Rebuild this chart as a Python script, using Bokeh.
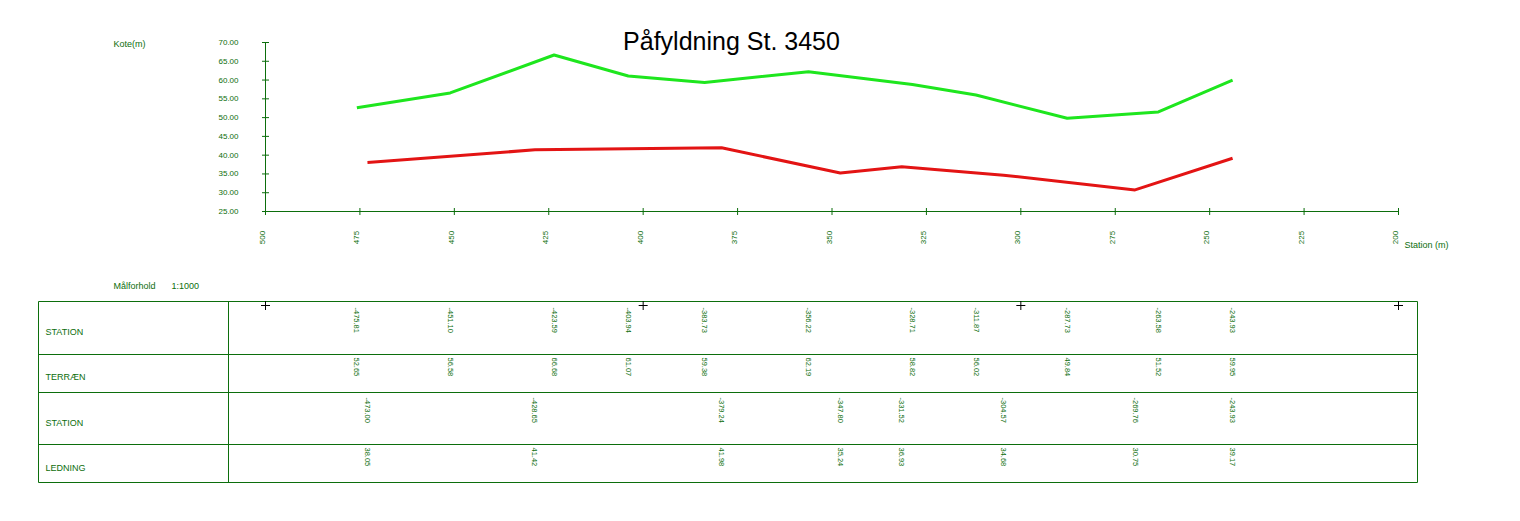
import math
from bokeh.plotting import figure
from bokeh.models import Range1d, ColumnDataSource
from bokeh.core.properties import value
from bokeh.embed import file_html
from bokeh.resources import INLINE

# ---------------- data ----------------
title_text = "Påfyldning St. 3450"
y_ticks = [25, 30, 35, 40, 45, 50, 55, 60, 65, 70]
x_ticks = [500, 475, 450, 425, 400, 375, 350, 325, 300, 275, 250, 225, 200]
cross_stations = [500, 400, 300, 200]

terrain_station = [-475.81, -451.10, -423.59, -403.94, -383.73, -356.22,
                   -328.71, -311.87, -287.73, -263.58, -243.93]
terrain_kote = [52.65, 56.58, 66.68, 61.07, 59.38, 62.19,
                58.82, 56.02, 49.84, 51.52, 59.95]

ledning_station = [-473.00, -428.65, -379.24, -347.80, -331.52, -304.57, -269.76, -243.93]
ledning_kote = [38.05, 41.42, 41.98, 35.24, 36.93, 34.68, 30.75, 39.17]

row_labels = ["STATION", "TERRÆN", "STATION", "LEDNING"]

# ---------------- styling ----------------
W, H = 1504, 505
FONT = "Liberation Sans"
DG = "#0c6e0c"
GREEN = "#1ee61e"
RED = "#e31414"

# pixel anchors (canvas px)
X500, X200 = 265, 1398
Y70, Y25 = 42, 211
sx = (X200 - X500) / 300.0
sy = (Y25 - Y70) / 45.0
x_start = 500 + X500 / sx
x_end = 500 - (W - X500) / sx
y_top = 70 + Y70 / sy
y_bot = 70 - (H - Y70) / sy

p = figure(width=W, height=H, output_backend="svg", toolbar_location=None,
           x_range=Range1d(x_start, x_end), y_range=Range1d(y_bot, y_top),
           x_axis_location=None, y_axis_location=None, min_border=0,
           background_fill_color="white", border_fill_color="white")
p.outline_line_color = None
p.grid.visible = False
p.extra_x_ranges = {"px": Range1d(0, W)}
p.extra_y_ranges = {"py": Range1d(H, 0)}

def txt(x, y, t, size, color=DG, align="left", baseline="middle", angle=0.0,
        xr="default", yr="default", x_offset=0):
    src = ColumnDataSource(dict(x=list(x), y=list(y), t=list(t)))
    p.text(x="x", y="y", text="t", source=src, text_font=value(FONT),
           text_font_size=f"{size}px", text_color=color, text_align=align,
           text_baseline=baseline, angle=angle, x_range_name=xr, y_range_name=yr,
           x_offset=x_offset)

# title
txt([731], [40], [title_text], 25, color="black", align="center", baseline="alphabetic",
    xr="px", yr="py")
txt([113], [43], ["Kote(m)"], 9, xr="px", yr="py")

# y axis
p.line(x=[x_ticks[0], x_ticks[0]], y=[y_ticks[0], y_ticks[-1]], line_color=DG, line_width=1)
p.scatter(x=[x_ticks[0]] * len(y_ticks), y=y_ticks, marker="dash", size=7,
          line_color=DG, line_width=1)
txt([238] * len(y_ticks), y_ticks, [f"{v:.2f}" for v in y_ticks], 8, align="right", xr="px")

# x axis
p.line(x=[x_ticks[0], x_ticks[-1]], y=[y_ticks[0], y_ticks[0]], line_color=DG, line_width=1)
p.scatter(x=x_ticks, y=[y_ticks[0]] * len(x_ticks), marker="dash", angle=math.pi / 2,
          size=7, line_color=DG, line_width=1)
txt(x_ticks, [237] * len(x_ticks), [str(v) for v in x_ticks], 8, align="center",
    angle=math.pi / 2, yr="py", x_offset=-3)
txt([1404], [244], ["Station (m)"], 9, xr="px", yr="py")

# profile lines
p.line(x=[abs(s) for s in terrain_station], y=terrain_kote, line_color=GREEN, line_width=3)
p.line(x=[abs(s) for s in ledning_station], y=ledning_kote, line_color=RED, line_width=3)

# scale note
txt([113], [285], ["Målforhold"], 9, xr="px", yr="py")
txt([171], [285], ["1:1000"], 9, xr="px", yr="py")

# table grid
L, R, T, B, D = 38, 1417, 301, 482, 228
rows = [354, 392, 444]
p.segment(x0=[L, L, L, R, D] + [L] * 3, y0=[T, B, T, T, T] + rows,
          x1=[R, R, L, R, D] + [R] * 3, y1=[T, B, B, B, B] + rows,
          line_color=DG, line_width=1, x_range_name="px", y_range_name="py")
txt([45] * 4, [331, 376, 422, 467], row_labels, 9, xr="px", yr="py")

p.scatter(x=cross_stations, y=[305] * len(cross_stations), marker="cross", size=9,
          line_color="black", line_width=1, y_range_name="py")

txt([abs(s) for s in terrain_station], [307] * len(terrain_station),
    [f"{s:.2f}" for s in terrain_station], 7.5, angle=-math.pi / 2, yr="py")
txt([abs(s) for s in terrain_station], [357] * len(terrain_station),
    [f"{v:.2f}" for v in terrain_kote], 7.5, angle=-math.pi / 2, yr="py")
txt([abs(s) for s in ledning_station], [397] * len(ledning_station),
    [f"{s:.2f}" for s in ledning_station], 7.5, angle=-math.pi / 2, yr="py")
txt([abs(s) for s in ledning_station], [447] * len(ledning_station),
    [f"{v:.2f}" for v in ledning_kote], 7.5, angle=-math.pi / 2, yr="py")

open("out.html", "w").write(file_html(p, INLINE))
